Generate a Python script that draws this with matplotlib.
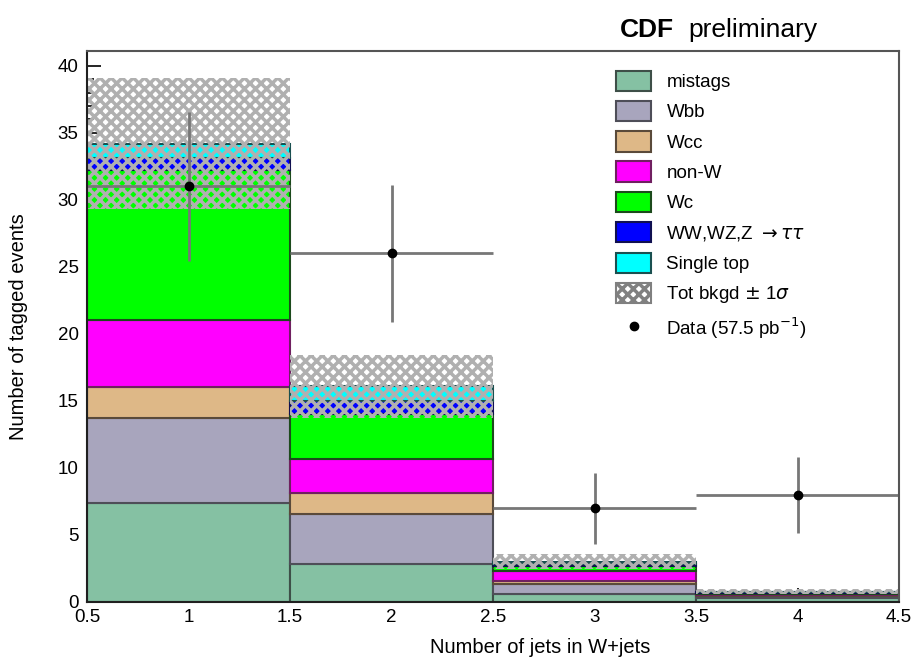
import numpy as np
import matplotlib.pyplot as plt
from matplotlib.patches import Patch
from matplotlib.lines import Line2D

plt.rcParams['font.family'] = ['Liberation Sans', 'DejaVu Sans']

# jet multiplicity bins
njets = [1, 2, 3, 4]

# background components per bin (tagged events)
mistags = [7.4, 2.85, 0.6, 0.3]
wbb = [6.3, 3.75, 0.75, 0.15]
wcc = [2.3, 1.5, 0.25, 0.05]
nonw = [5.0, 2.6, 0.7, 0.1]
wc = [11.2, 3.3, 0.4, 0.1]
diboson = [0.9, 1.0, 0.15, 0.02]
singletop = [1.1, 1.1, 0.15, 0.05]
bkgd_err = [4.9, 2.35, 0.55, 0.2]

# observed data
data = [31, 26, 7, 8]

components = [
    ("mistags", mistags, "#85c1a3", "#3e4f48"),
    ("Wbb", wbb, "#a8a5bd", "#4e4e58"),
    ("Wcc", wcc, "#deb887", "#5a4a3a"),
    ("non-W", nonw, "#ff00ff", "#702060"),
    ("Wc", wc, "#00ff00", "#1c4a1c"),
    (r"WW,WZ,Z $\rightarrow\tau\tau$", diboson, "#0000ff", "#101050"),
    ("Single top", singletop, "#00ffff", "#1a5050"),
]

fig = plt.figure(figsize=(9.16, 6.62), dpi=100)
ax = fig.add_axes([87 / 916, 60 / 662, 812 / 916, 551 / 662])

x = np.array(njets, dtype=float)
bottom = np.zeros(len(x))
handles = []
for label, vals, fc, ec in components:
    vals = np.array(vals)
    ax.bar(x, vals, width=1.0, bottom=bottom, color=fc, edgecolor=ec,
           linewidth=1.5, zorder=2)
    bottom = bottom + vals
    handles.append(Patch(facecolor=fc, edgecolor=ec, linewidth=1.5, label=label))

# total background uncertainty band
err = np.array(bkgd_err)
plt.rcParams['hatch.linewidth'] = 2.5
ax.bar(x, 2 * err, width=1.0, bottom=bottom - err, facecolor='none',
       edgecolor='#b0b0b0', hatch='xxx', linewidth=0, zorder=3)
handles.append(Patch(facecolor='white', edgecolor='#808080', hatch='xxx',
                     linewidth=1.5, label=r"Tot bkgd $\pm$ 1$\sigma$"))

# data points with sqrt(N) errors
d = np.array(data, dtype=float)
ax.errorbar(x, d, xerr=0.5, yerr=np.sqrt(d), fmt='o', color='black',
            ecolor='#777777', elinewidth=2, capsize=0, markersize=6, zorder=5)
handles.append(Line2D([], [], marker='o', color='black', linestyle='none',
                      markersize=6, label=r"Data (57.5 pb$^{-1}$)"))

ax.set_xlim(0.5, 4.5)
ax.set_ylim(0, 41.1)
ax.set_xticks([0.5, 1, 1.5, 2, 2.5, 3, 3.5, 4, 4.5])
ax.set_xticklabels(['0.5', '1', '1.5', '2', '2.5', '3', '3.5', '4', '4.5'])
ax.set_xticks(np.arange(0.5, 4.51, 0.1), minor=True)
ax.set_yticks(np.arange(0, 41, 5))
ax.set_yticks(np.arange(0, 41, 1), minor=True)
ax.tick_params(direction='in', which='major', length=10, width=1.2,
               labelsize=13.5, top=False, right=False, zorder=6)
ax.tick_params(direction='in', which='minor', length=5, width=1.2,
               top=False, right=False)
ax.tick_params(axis='x', pad=5)
ax.tick_params(axis='y', pad=6)
for s in ['left', 'bottom']:
    ax.spines[s].set_color('#202020')
    ax.spines[s].set_linewidth(1.5)
for s in ['top', 'right']:
    ax.spines[s].set_color('#555555')
    ax.spines[s].set_linewidth(1.5)
for s in ax.spines.values():
    s.set_zorder(7)

ax.set_xlabel("Number of jets in W+jets", fontsize=14.5)
ax.xaxis.set_label_coords(0.558, -0.065)
ax.set_ylabel("Number of tagged events", fontsize=14.5)
ax.yaxis.set_label_coords(-0.073, 0.5)

leg = ax.legend(handles=handles, loc='upper left', bbox_to_anchor=(0.642, 0.978),
                frameon=False, fontsize=13.5, handlelength=1.9, handleheight=1.3,
                labelspacing=0.52, handletextpad=0.8, borderaxespad=0)

fig.text(620 / 916, 1 - 30 / 662, "CDF", fontsize=19, fontweight='bold',
         ha='left', va='center')
fig.text(688 / 916, 1 - 30 / 662, "preliminary", fontsize=19,
         ha='left', va='center')

fig.savefig("out.png", dpi=100)
